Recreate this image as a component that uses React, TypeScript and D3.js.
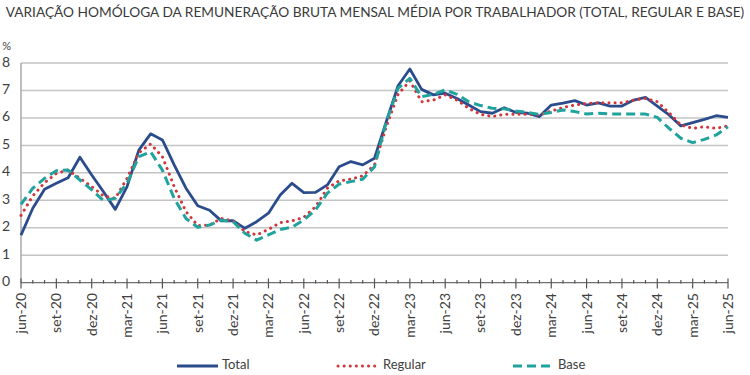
import React, { useLayoutEffect, useRef, useState } from "react";
import * as d3 from "d3";

const months: string[] = [
  "jun-20","jul-20","ago-20","set-20","out-20","nov-20","dez-20","jan-21","fev-21","mar-21","abr-21","mai-21",
  "jun-21","jul-21","ago-21","set-21","out-21","nov-21","dez-21","jan-22","fev-22","mar-22","abr-22","mai-22",
  "jun-22","jul-22","ago-22","set-22","out-22","nov-22","dez-22","jan-23","fev-23","mar-23","abr-23","mai-23",
  "jun-23","jul-23","ago-23","set-23","out-23","nov-23","dez-23","jan-24","fev-24","mar-24","abr-24","mai-24",
  "jun-24","jul-24","ago-24","set-24","out-24","nov-24","dez-24","jan-25","fev-25","mar-25","abr-25","mai-25",
  "jun-25",
];

const labeledMonths: string[] = [
  "jun-20","set-20","dez-20","mar-21","jun-21","set-21","dez-21","mar-22","jun-22","set-22","dez-22",
  "mar-23","jun-23","set-23","dez-23","mar-24","jun-24","set-24","dez-24","mar-25","jun-25",
];

const total: number[] = [
  1.73, 2.71, 3.40, 3.62, 3.82, 4.57, 3.92, 3.31, 2.67, 3.50,
  4.83, 5.42, 5.20, 4.29, 3.44, 2.80, 2.64, 2.25, 2.26, 1.98,
  2.22, 2.53, 3.19, 3.62, 3.28, 3.29, 3.56, 4.22, 4.41, 4.29,
  4.53, 5.86, 7.17, 7.78, 7.04, 6.84, 6.90, 6.71, 6.47, 6.23,
  6.17, 6.37, 6.20, 6.17, 6.05, 6.47, 6.54, 6.63, 6.47, 6.55,
  6.43, 6.43, 6.65, 6.75, 6.43, 6.11, 5.71, 5.83, 5.95, 6.08, 6.02,
];

const regular: number[] = [
  2.45, 3.16, 3.64, 3.98, 4.10, 3.80, 3.50, 3.16, 3.07, 3.80,
  4.73, 5.05, 4.59, 3.50, 2.59, 2.08, 2.10, 2.34, 2.25, 1.86,
  1.74, 1.94, 2.19, 2.25, 2.38, 2.77, 3.44, 3.71, 3.77, 3.89,
  4.29, 5.68, 6.86, 7.35, 6.59, 6.65, 6.84, 6.65, 6.35, 6.13,
  6.05, 6.13, 6.13, 6.13, 6.11, 6.25, 6.38, 6.47, 6.53, 6.55,
  6.55, 6.55, 6.65, 6.71, 6.59, 6.19, 5.74, 5.62, 5.68, 5.62, 5.71,
];

const base: number[] = [
  2.85, 3.44, 3.80, 4.08, 4.10, 3.74, 3.38, 2.99, 3.07, 3.62,
  4.59, 4.77, 4.10, 3.07, 2.34, 2.02, 2.10, 2.28, 2.22, 1.80,
  1.55, 1.74, 1.94, 2.02, 2.28, 2.65, 3.26, 3.59, 3.68, 3.77,
  4.22, 5.86, 7.08, 7.44, 6.77, 6.86, 7.02, 6.86, 6.59, 6.45,
  6.35, 6.33, 6.25, 6.20, 6.13, 6.20, 6.29, 6.23, 6.14, 6.17,
  6.14, 6.14, 6.14, 6.14, 6.02, 5.62, 5.26, 5.10, 5.22, 5.38, 5.68,
];

const yTicks: number[] = [0, 1, 2, 3, 4, 5, 6, 7, 8];

const title = "VARIAÇÃO HOMÓLOGA DA REMUNERAÇÃO BRUTA MENSAL MÉDIA POR TRABALHADOR (TOTAL, REGULAR E BASE)";

const FONT = "Lato, 'Open Sans', sans-serif";

export default function App() {
  const W = 750, H = 375;
  const titleRef = useRef<SVGTextElement>(null);
  const [titleSize, setTitleSize] = useState(15);

  useLayoutEffect(() => {
    const el = titleRef.current;
    if (!el) return;
    const w = el.getComputedTextLength();
    const maxW = 740;
    if (w > maxW) {
      setTitleSize((s) => Math.floor(((s * maxW) / w) * 10) / 10);
    }
  }, []);

  const x = d3.scalePoint<string>().domain(months).range([21, 728]);
  const y = d3.scaleLinear().domain([0, 8]).range([282.7, 63]);

  const line = d3
    .line<number>()
    .x((_, i) => x(months[i]) as number)
    .y((d) => y(d));

  const series = [
    { name: "Total", data: total, color: "#2B4C8C", width: 2.8, dash: undefined as string | undefined, cap: "butt" },
    { name: "Regular", data: regular, color: "#D2353B", width: 3, dash: "0.1 6", cap: "round" },
    { name: "Base", data: base, color: "#1FA39C", width: 3, dash: "9 5", cap: "butt" },
  ];

  const legendX = [177, 338, 513];

  return (
    <svg
      width={W}
      height={H}
      style={{ position: "absolute", left: 0, top: 0, background: "#fff" }}
      fontFamily={FONT}
    >
      <text ref={titleRef} x={W / 2} y={17} fontSize={titleSize} fill="#3a3a3a" textAnchor="middle">
        {title}
      </text>

      <text x={11} y={47} fontSize={11} fill="#404040" textAnchor="end" dominantBaseline="middle">%</text>

      {yTicks.map((t) => (
        <g key={t}>
          {t > 0 && (
            <line x1={21} x2={728} y1={y(t)} y2={y(t)} stroke="#C4C4C4" strokeWidth={1.5} />
          )}
          <text x={10} y={y(t)} fontSize={14} fill="#404040" textAnchor="end" dominantBaseline="middle">
            {t}
          </text>
        </g>
      ))}

      <line x1={21} x2={21} y1={y(8)} y2={y(0)} stroke="#A8A8A8" strokeWidth={1.5} />
      <line x1={21} x2={728} y1={y(0)} y2={y(0)} stroke="#6f6f6f" strokeWidth={1.3} />

      {months.map((m) => {
        const major = labeledMonths.includes(m);
        const xx = x(m) as number;
        return (
          <line
            key={m}
            x1={xx}
            x2={xx}
            y1={y(0) - (major ? 4.3 : 2.7)}
            y2={y(0) + (major ? 5.7 : 0.8)}
            stroke="#555"
            strokeWidth={1.2}
          />
        );
      })}

      {labeledMonths.map((m) => {
        const xx = x(m) as number;
        return (
          <text
            key={m}
            transform={`translate(${xx},293) rotate(-90)`}
            fontSize={14}
            fill="#404040"
            textAnchor="end"
            dy="0.35em"
          >
            {m}
          </text>
        );
      })}

      {series.map((s) => (
        <path
          key={s.name}
          d={line(s.data) || ""}
          fill="none"
          stroke={s.color}
          strokeWidth={s.width}
          strokeDasharray={s.dash}
          strokeLinecap={s.cap as any}
          strokeLinejoin="round"
        />
      ))}

      {series.map((s, i) => (
        <g key={s.name} transform={`translate(${legendX[i]},366)`}>
          <line
            x1={0}
            x2={41}
            y1={0}
            y2={0}
            stroke={s.color}
            strokeWidth={s.width}
            strokeDasharray={s.dash}
            strokeLinecap={s.cap as any}
          />
          <text x={45} y={0} fontSize={13} fill="#404040" dominantBaseline="middle">
            {s.name}
          </text>
        </g>
      ))}
    </svg>
  );
}
